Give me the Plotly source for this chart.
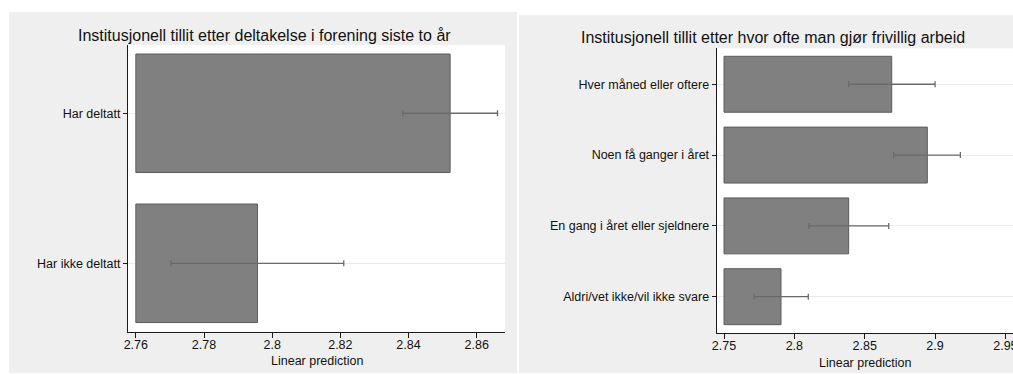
import plotly.graph_objects as go

W, H = 1013, 374

# Left panel data
left_title = "Institusjonell tillit etter deltakelse i forening siste to år"
left_cats = ["Har ikke deltatt", "Har deltatt"]          # bottom -> top
left_vals = [2.7957, 2.8522]
left_lo = [2.7703, 2.8383]
left_hi = [2.8210, 2.8661]
left_base = 2.76
left_tickvals = [2.76, 2.78, 2.80, 2.82, 2.84, 2.86]
left_ticktext = ["2.76", "2.78", "2.8", "2.82", "2.84", "2.86"]

# Right panel data
right_title = "Institusjonell tillit etter hvor ofte man gjør frivillig arbeid"
right_cats = ["Aldri/vet ikke/vil ikke svare", "En gang i året eller sjeldnere",
              "Noen få ganger i året", "Hver måned eller oftere"]   # bottom -> top
right_vals = [2.7905, 2.8386, 2.8945, 2.8692]
right_lo = [2.7715, 2.8104, 2.8706, 2.8386]
right_hi = [2.8099, 2.8671, 2.9180, 2.9000]
right_base = 2.75
right_tickvals = [2.75, 2.80, 2.85, 2.90, 2.95]
right_ticktext = ["2.75", "2.8", "2.85", "2.9", "2.95"]

x_title = "Linear prediction"

FONT = "Arial, 'Liberation Sans', sans-serif"
BAR_FILL = "#808080"
BAR_LINE = "#5c5c5c"
ERR_COL = "#6a6a6a"
AXIS_COL = "#1a1a1a"
PANEL_BG = "#efefef"

def px(x):
    return x / W

def py(y):
    return 1 - y / H

fig = go.Figure()

def add_panel(cats, vals, lo, hi, base, xa, ya):
    fig.add_trace(go.Bar(
        y=cats, x=[v - base for v in vals], base=base, orientation="h",
        marker=dict(color=BAR_FILL, line=dict(color=BAR_LINE, width=1)),
        width=0.79, xaxis=xa, yaxis=ya, showlegend=False, hoverinfo="skip",
    ))
    fig.add_trace(go.Scatter(
        y=cats, x=vals, mode="markers",
        marker=dict(size=1, opacity=0),
        error_x=dict(type="data", symmetric=False,
                     array=[h - v for h, v in zip(hi, vals)],
                     arrayminus=[v - l for v, l in zip(vals, lo)],
                     color=ERR_COL, thickness=1.3, width=3),
        xaxis=xa, yaxis=ya, showlegend=False, hoverinfo="skip",
    ))

add_panel(left_cats, left_vals, left_lo, left_hi, left_base, "x", "y")
add_panel(right_cats, right_vals, right_lo, right_hi, right_base, "x2", "y2")

xcommon = dict(showgrid=False, zeroline=False, showline=True, linecolor=AXIS_COL,
               linewidth=1.2, ticks="outside", ticklen=5, tickcolor=AXIS_COL,
               ticklabelstandoff=-4, ticklabeloverflow="allow",
               tickfont=dict(family=FONT, size=12.5, color="#111"), automargin=False)
ycommon = dict(showgrid=True, gridcolor="#ebebeb", gridwidth=1.2, zeroline=False,
               showline=True, linecolor=AXIS_COL, linewidth=1.2, ticks="outside",
               ticklen=4, tickcolor=AXIS_COL, type="category",
               tickfont=dict(family=FONT, size=12.5, color="#111"), automargin=False)

fig.update_layout(
    width=W, height=H,
    margin=dict(l=0, r=0, t=0, b=0),
    paper_bgcolor="white", plot_bgcolor="white",
    font=dict(family=FONT, color="#111"),
    bargap=0.2,
    xaxis=dict(domain=[px(128), px(505)], range=[2.7577, 2.8683],
               tickvals=left_tickvals, ticktext=left_ticktext, anchor="y", **xcommon),
    yaxis=dict(domain=[py(332), py(45)], range=[-0.458, 1.455],
               categoryorder="array", categoryarray=left_cats, anchor="x", **ycommon),
    xaxis2=dict(domain=[px(716.7), 1.0], range=[2.7448, 2.9554],
                tickvals=right_tickvals, ticktext=right_ticktext, anchor="y2", **xcommon),
    yaxis2=dict(domain=[py(333.3), py(48.3)], range=[-0.517, 3.508],
                categoryorder="array", categoryarray=right_cats, anchor="x2", **ycommon),
    shapes=[
        dict(type="rect", xref="paper", yref="paper", x0=px(9), x1=px(517),
             y0=py(373), y1=py(12), fillcolor=PANEL_BG, line=dict(width=0), layer="below"),
        dict(type="rect", xref="paper", yref="paper", x0=px(519), x1=1.0,
             y0=py(373), y1=py(15), fillcolor=PANEL_BG, line=dict(width=0), layer="below"),
        dict(type="rect", xref="paper", yref="paper", x0=px(128), x1=px(505),
             y0=py(332), y1=py(45), fillcolor="white", line=dict(width=0), layer="below"),
        dict(type="rect", xref="paper", yref="paper", x0=px(716.7), x1=1.0,
             y0=py(333.3), y1=py(48.3), fillcolor="white", line=dict(width=0), layer="below"),
    ],
    annotations=[
        dict(text=left_title, xref="paper", yref="paper", x=px(264), y=py(35),
             xanchor="center", yanchor="middle", showarrow=False,
             font=dict(family=FONT, size=16, color="#111")),
        dict(text=right_title, xref="paper", yref="paper", x=px(773), y=py(37.7),
             xanchor="center", yanchor="middle", showarrow=False,
             font=dict(family=FONT, size=16, color="#111")),
        dict(text=x_title, xref="paper", yref="paper", x=px(316.5), y=py(361),
             xanchor="center", yanchor="middle", showarrow=False,
             font=dict(family=FONT, size=12.5, color="#111")),
        dict(text=x_title, xref="paper", yref="paper", x=px(864.5), y=py(362.5),
             xanchor="center", yanchor="middle", showarrow=False,
             font=dict(family=FONT, size=12.5, color="#111")),
    ],
)

fig.write_html("out.html", config={"displayModeBar": False},
               post_script="document.body.style.margin='0px';document.body.style.overflow='hidden';")
